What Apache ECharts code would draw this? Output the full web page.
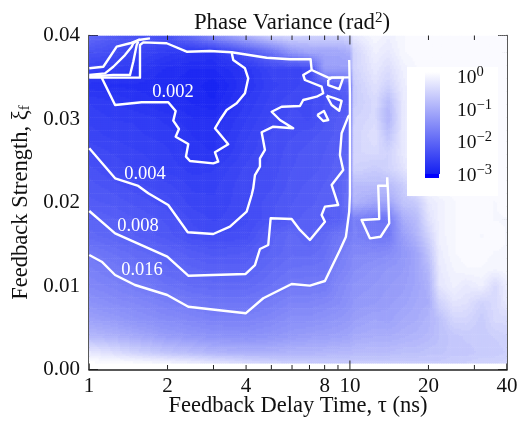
<!DOCTYPE html>
<html><head><meta charset="utf-8">
<style>html,body{margin:0;padding:0;background:#fff}#c{width:517px;height:421px}</style>
<script src="https://cdn.jsdelivr.net/npm/echarts@6/dist/echarts.min.js"></script>
</head><body><div id="c"></div>
<script>
const tauValues=[1,1.25,1.5,2,2.5,3,4,5,6,7,8,9,10,10.3,12.5,14,16,18,20,22,25,28,32,36,40];
const xiValues=[.04,.038,.036,.034,.032,.03,.028,.026,.024,.022,.02,.018,.016,.014,.012,.01,.008,.006,.004,.002,.0008];
// log10 of the phase variance, one row per xi value
const logVariance=[
[-2.0,-2.2,-2.3,-2.3,-1.9,-1.5,-1.0,-0.6,-0.5,-0.6,-0.6,-0.6,-0.5,-0.3,-0.1,-0.2,-0.1,-0.05,-0.05,-0.05,-0.05,-0.05,-0.05,-0.05,-0.05],
[-2.3,-2.4,-2.5,-2.62,-2.7,-2.72,-2.3,-1.9,-1.4,-1.2,-1.2,-1.2,-1.1,-0.6,-0.2,-0.3,-0.1,-0.05,-0.05,-0.05,-0.05,-0.05,-0.05,-0.05,-0.05],
[-2.55,-2.6,-2.65,-2.8,-2.85,-2.85,-2.7,-2.5,-2.5,-2.45,-1.3,-1.3,-1.3,-0.6,-0.3,-0.45,-0.2,-0.1,-0.05,-0.05,-0.05,-0.05,-0.05,-0.05,-0.05],
[-2.75,-2.8,-2.8,-2.85,-2.88,-2.95,-2.72,-2.55,-2.5,-2.42,-2.3,-2.2,-2.1,-0.7,-0.4,-0.6,-0.25,-0.1,-0.05,-0.05,-0.05,-0.05,-0.05,-0.05,-0.05],
[-2.6,-2.65,-2.72,-2.8,-2.85,-2.9,-2.65,-2.5,-2.42,-2.42,-2.35,-2.3,-2.15,-0.7,-0.5,-0.9,-0.3,-0.1,-0.05,-0.05,-0.05,-0.05,-0.05,-0.05,-0.05],
[-2.55,-2.6,-2.6,-2.68,-2.78,-2.78,-2.6,-2.45,-2.38,-2.42,-2.3,-2.2,-2.1,-0.6,-0.5,-1.0,-0.3,-0.05,-0.05,-0.05,-0.05,-0.05,-0.05,-0.05,-0.05],
[-2.5,-2.55,-2.58,-2.62,-2.72,-2.74,-2.55,-2.4,-2.35,-2.3,-2.25,-2.2,-2.05,-0.6,-0.4,-0.8,-0.3,-0.1,-0.05,-0.05,-0.05,-0.05,-0.05,-0.05,-0.05],
[-2.42,-2.48,-2.52,-2.58,-2.7,-2.72,-2.5,-2.4,-2.3,-2.25,-2.22,-2.15,-2.0,-0.55,-0.5,-0.6,-0.3,-0.1,-0.05,-0.1,-0.05,-0.05,-0.05,-0.05,-0.1],
[-2.32,-2.42,-2.48,-2.55,-2.62,-2.6,-2.45,-2.38,-2.28,-2.25,-2.2,-2.12,-1.95,-0.6,-0.7,-0.6,-0.4,-0.1,-0.05,-0.05,-0.05,-0.05,-0.05,-0.1,-0.05],
[-2.25,-2.32,-2.38,-2.45,-2.55,-2.55,-2.42,-2.36,-2.25,-2.2,-2.15,-2.1,-1.9,-0.9,-0.9,-0.9,-0.7,-0.3,-0.1,-0.05,-0.05,-0.05,-0.05,-0.05,-0.1],
[-2.2,-2.24,-2.3,-2.38,-2.5,-2.52,-2.42,-2.3,-2.22,-2.18,-2.12,-2.1,-1.85,-1.0,-1.2,-1.2,-0.8,-0.7,-0.3,-0.2,-0.1,-0.05,-0.05,-0.1,-0.05],
[-2.08,-2.15,-2.22,-2.3,-2.42,-2.48,-2.42,-2.3,-2.2,-2.1,-2.18,-2.15,-1.9,-1.7,-1.85,-1.85,-1.1,-0.9,-0.4,-0.2,-0.1,-0.05,-0.05,-0.1,-0.1],
[-2.0,-2.08,-2.15,-2.25,-2.38,-2.4,-2.38,-2.12,-2.0,-2.1,-2.0,-1.85,-1.78,-1.7,-1.82,-1.82,-1.3,-1.0,-0.6,-0.2,-0.1,-0.05,-0.1,-0.05,-0.1],
[-1.82,-1.92,-2.0,-2.1,-2.2,-2.25,-2.22,-2.08,-1.98,-2.0,-1.92,-1.78,-1.65,-1.6,-1.6,-1.55,-1.4,-1.2,-0.8,-0.25,-0.1,-0.05,-0.05,-0.1,-0.1],
[-1.7,-1.8,-1.9,-2.02,-2.08,-2.12,-2.12,-1.98,-1.9,-1.88,-1.88,-1.7,-1.6,-1.55,-1.45,-1.4,-1.35,-1.2,-0.95,-0.3,-0.15,-0.1,-0.1,-0.15,-0.1],
[-1.6,-1.68,-1.76,-1.9,-1.98,-2.0,-2.0,-1.9,-1.8,-1.8,-1.78,-1.6,-1.5,-1.45,-1.4,-1.35,-1.3,-1.2,-1.05,-0.35,-0.2,-0.3,-0.2,-0.5,-0.25],
[-1.45,-1.55,-1.6,-1.72,-1.8,-1.85,-1.85,-1.75,-1.65,-1.65,-1.6,-1.55,-1.45,-1.4,-1.35,-1.3,-1.25,-1.15,-1.1,-0.6,-0.35,-0.4,-0.6,-0.5,-0.3],
[-1.25,-1.35,-1.45,-1.55,-1.62,-1.68,-1.68,-1.6,-1.5,-1.5,-1.45,-1.4,-1.35,-1.3,-1.22,-1.25,-1.15,-1.1,-1.0,-0.85,-0.55,-0.55,-0.7,-0.5,-0.5],
[-0.95,-1.05,-1.15,-1.32,-1.4,-1.45,-1.48,-1.42,-1.35,-1.3,-1.28,-1.25,-1.2,-1.15,-1.1,-1.1,-1.05,-1.0,-0.95,-0.85,-0.75,-0.7,-0.7,-0.65,-0.6],
[-0.3,-0.45,-0.6,-0.8,-0.9,-1.0,-1.05,-1.05,-1.0,-1.0,-0.98,-0.95,-0.95,-0.92,-0.9,-0.9,-0.85,-0.85,-0.8,-0.8,-0.75,-0.75,-0.7,-0.7,-0.65],
[0,-0.02,-0.05,-0.15,-0.25,-0.35,-0.5,-0.6,-0.65,-0.7,-0.7,-0.7,-0.7,-0.7,-0.7,-0.7,-0.7,-0.7,-0.7,-0.7,-0.65,-0.65,-0.6,-0.6,-0.55]
];
// contours: [log10 tau, xi]
const contour002=[[.001,.03495],[.1954,.03495],[.1954,.03886],[.208,.03918],[.2977,.03907],[.3743,.03806],[.4636,.03814],[.5467,.03799],[.5529,.03707],[.5977,.03607],[.6103,.03487],[.5977,.03308],[.5659,.03188],[.5276,.03108],[.5019,.02988],[.4828,.02889],[.5337,.02697],[.4828,.02601],[.4954,.02489],[.4762,.02469],[.387,.02497],[.3716,.02549],[.3805,.02701],[.3322,.02788],[.3448,.0288],[.323,.0298],[.3322,.03096],[.3038,.032],[.2019,.032],[.1,.03168],[.0487,.03495]];
const contour004=[[.001,.02649],[.1,.0229],[.1889,.02198],[.2272,.0211],[.3038,.0197],[.3785,.01643],[.4762,.01623],[.5402,.0171],[.6042,.0189],[.6234,.0209],[.6295,.0217],[.636,.02329],[.6552,.02429],[.6552,.02529],[.6743,.02629],[.6617,.02841],[.7061,.02908],[.7828,.02889],[.7318,.02988],[.7,.03087],[.7383,.03147],[.8084,.03156],[.8149,.03147],[.8211,.03228],[.8724,.03267],[.8977,.03308],[.8916,.03387],[.8276,.03467],[.8211,.03527],[.8533,.03587],[.8494,.03715],[.7701,.03715],[.6808,.03734],[.5467,.03799]];
const contour008=[[.001,.01898],[.1,.01631],[.3,.01351],[.3805,.01123],[.6004,.01144],[.636,.01251],[.6552,.01443],[.687,.01491],[.6962,.01811],[.7766,.01802],[.8084,.01671],[.8467,.01551],[.9042,.0177],[.8916,.0185],[.9042,.0195],[.9552,.0197],[.9425,.0209],[.9299,.0221],[.9743,.02389],[.9617,.02569],[.9682,.02829],[.9935,.03028],[1,.03048]];
const contour016=[[.001,.01371],[.0487,.01291],[.1,.01132],[.1762,.01012],[.3,.00892],[.3805,.00752],[.6004,.00673],[.6678,.00853],[.7766,.01024],[.8467,.01004],[.9042,.0106],[.9617,.01431],[.9847,.0159],[.9973,.0189],[1,.0209],[1,.03287],[.9973,.03707]];
const cornerA=[[.001,.03607],[.0548,.03626],[.0805,.03746],[.1061,.03866],[.1571,.03907],[.1889,.03946],[.2337,.03966]];
const cornerB=[[.001,.03527],[.0613,.03547],[.0931,.03626],[.1379,.03766],[.1636,.03866],[.1697,.03907],[.1954,.03954]];
const cornerC=[[.001,.03507],[.0931,.03527],[.1571,.03527],[.1697,.03686],[.1828,.03886],[.1889,.03926]];
const loop1=[[.9169,.03467],[.9299,.03495],[.9743,.03495],[.959,.03359],[.9169,.03407],[.9169,.03467]];
const spur1=[[.8533,.03587],[.9169,.03495],[1,.03499]];
const loop2=[[.9107,.03279],[.9425,.03248],[.9682,.03216],[.959,.03099],[.9299,.03168],[.9107,.03279]];
const loop3=[[.8747,.03048],[.9004,.03096],[.9169,.02988],[.8977,.02976],[.8747,.03048]];
const loop4=[[1.143,.02302],[1.143,.02201],[1.1084,.02201],[1.111,.0197],[1.1123,.01802],[1.0448,.0179],[1.0766,.01571],[1.1176,.0159],[1.1506,.01751],[1.1467,.0209],[1.143,.02302]];
const contourLines=[contour002,contour004,contour008,contour016,cornerA,cornerB,cornerC,loop1,spur1,loop2,loop3,loop4];
const contourLabels=[["0.002",.3218,.0332],["0.004",.2146,.0234],["0.008",.1877,.0172],["0.016",.2031,.0119]];
const xMinorTicks=[2,3,4,5,6,7,8,9,20,30];
const xMajorTicks=[10];
const xTickLabels=[1,2,4,8,10,20,40];
const colorbarLabels=["0","\u22121","\u22122","\u22123"];

const SERIF='"Liberation Serif","Times New Roman",serif';
function colorOf(lv){
  let t=Math.max(0,Math.min(1,(lv+3)/3));
  t=Math.round(t*48)/48;
  const r=Math.round(20+235*t),g=Math.round(32+223*t),b=Math.round(242+13*t);
  return 'rgb('+r+','+g+','+b+')';
}
const cells=[];
for(let j=0;j<xiValues.length-1;j++)for(let i=0;i<tauValues.length-1;i++){
  cells.push([i,j]);
}
function renderCell(params,api){
  const i=api.value(0),j=api.value(1);
  const p0=api.coord([tauValues[i],xiValues[j]]);
  const p1=api.coord([tauValues[i+1],xiValues[j+1]]);
  const w=p1[0]-p0[0],h=p1[1]-p0[1];
  const nx=Math.max(1,Math.ceil(w/2)),ny=Math.max(1,Math.ceil(h/2));
  const v=logVariance;
  const children=[];
  for(let a=0;a<ny;a++){
    const fy=(a+.5)/ny;
    for(let b=0;b<nx;b++){
      const fx=(b+.5)/nx;
      const val=(1-fy)*((1-fx)*v[j][i]+fx*v[j][i+1])+fy*((1-fx)*v[j+1][i]+fx*v[j+1][i+1]);
      children.push({type:'rect',shape:{x:p0[0]+b*w/nx,y:p0[1]+a*h/ny,width:w/nx+.6,height:h/ny+.6},style:{fill:colorOf(val)},silent:true});
    }
  }
  return {type:'group',children};
}
function toSeriesData(line){return line.map(p=>[Math.pow(10,p[0]),p[1]]);}
const series=[{type:'custom',coordinateSystem:'cartesian2d',clip:true,silent:true,z:1,animation:false,data:cells,encode:{x:0,y:1},renderItem:renderCell}];
contourLines.forEach(l=>series.push({type:'line',data:toSeriesData(l),symbol:'none',silent:true,z:3,animation:false,clip:true,lineStyle:{color:'#fff',width:2.4,join:'round'}}));
series.push({type:'custom',coordinateSystem:'cartesian2d',silent:true,z:4,clip:false,animation:false,
  data:contourLabels.map((d,i)=>[Math.pow(10,d[1]),d[2],i]),encode:{x:0,y:1},
  renderItem(p,api){const c=api.coord([api.value(0),api.value(1)]);
    return {type:'text',x:c[0],y:c[1],style:{text:contourLabels[api.value(2)][0],fill:'#fff',font:'18.5px '+SERIF,align:'center',verticalAlign:'middle'}};}});
// x ticks and labels
const yBottom=0,yTop=.04;
series.push({type:'custom',coordinateSystem:'cartesian2d',silent:true,z:5,clip:false,animation:false,
  data:[...xMinorTicks.map(t=>[t,4.5]),...xMajorTicks.map(t=>[t,9])],encode:{x:0},
  renderItem(p,api){const t=api.value(0),len=api.value(1);const b=api.coord([t,yBottom]),u=api.coord([t,yTop]);
    const st={stroke:'#222',lineWidth:1};
    return {type:'group',children:[{type:'line',shape:{x1:b[0],y1:b[1],x2:b[0],y2:b[1]-len},style:st},{type:'line',shape:{x1:u[0],y1:u[1],x2:u[0],y2:u[1]+len},style:st}]};}});
series.push({type:'custom',coordinateSystem:'cartesian2d',silent:true,z:5,clip:false,animation:false,
  data:xTickLabels.map(t=>[t]),encode:{x:0},
  renderItem(p,api){const t=api.value(0);const b=api.coord([t,yBottom]);
    return {type:'text',x:b[0],y:b[1]+16.5,style:{text:String(t),fill:'#111',font:'21px '+SERIF,align:'center',verticalAlign:'middle'}};}});

const axisLine={show:true,onZero:false,lineStyle:{color:'#222',width:1.5}};
const graphics=[
 {type:'rect',shape:{x:407,y:67,width:91,height:129},style:{fill:'#fff'},z:10},
 {type:'rect',shape:{x:425,y:72,width:15,height:102},style:{fill:new echarts.graphic.LinearGradient(0,0,0,1,[{offset:0,color:'rgb(255,255,255)'},{offset:1,color:'rgb(20,32,242)'}])},z:11},
 {type:'rect',shape:{x:425,y:174,width:14,height:4},style:{fill:'#0000ff'},z:11}
];
colorbarLabels.forEach((s,i)=>{
  graphics.push({type:'text',x:457,y:[78,111,143,176][i],z:12,style:{text:'10{s|'+s+'}',fill:'#111',font:'19.5px '+SERIF,align:'left',verticalAlign:'middle',rich:{s:{fontSize:14.5,fontFamily:SERIF,fill:'#111',padding:[0,0,11,0]}}}});
});
const chart=echarts.init(document.getElementById('c'),null,{renderer:'canvas'});
chart.setOption({
 animation:false,backgroundColor:'#fff',
 title:{text:'Phase Variance (rad{s|2})',left:287,top:6,textAlign:'center',textStyle:{color:'#111',fontFamily:SERIF,fontSize:22.8,fontWeight:'normal',rich:{s:{fontSize:15,fontFamily:SERIF,color:'#111',padding:[0,0,10,0]}}}},
 grid:{left:89,right:10,top:35.5,bottom:51.5,outerBoundsMode:'none'},
 xAxis:{type:'log',logBase:10,min:1,max:40,axisLine,axisTick:{show:false},minorTick:{show:false},axisLabel:{show:false},splitLine:{show:false},minorSplitLine:{show:false},
  name:'Feedback Delay Time, \u03c4 (ns)',nameLocation:'middle',nameGap:25,nameTextStyle:{color:'#111',fontFamily:SERIF,fontSize:22.5}},
 yAxis:[
  {type:'value',min:0,max:.04,interval:.01,axisLine,axisTick:{show:true,inside:true,length:9,lineStyle:{color:'#222',width:1}},minorTick:{show:true,splitNumber:5,length:4.5,lineStyle:{color:'#222',width:1}},splitLine:{show:false},
   axisLabel:{color:'#111',fontFamily:SERIF,fontSize:21,margin:9,formatter:v=>v.toFixed(2)},
   name:'Feedback Strength, \u03be{s|f}',nameLocation:'middle',nameGap:56,nameTextStyle:{color:'#111',fontFamily:SERIF,fontSize:22.5,rich:{s:{fontSize:15,fontFamily:SERIF,color:'#111',padding:[8,0,0,0]}}}},
  {type:'value',position:'right',min:0,max:.04,interval:.01,axisLine,axisTick:{show:true,inside:true,length:9,lineStyle:{color:'#222',width:1}},minorTick:{show:true,splitNumber:5,length:4.5,lineStyle:{color:'#222',width:1}},splitLine:{show:false},axisLabel:{show:false}}
 ],
 series,
 graphic:graphics
});
</script></body></html>
